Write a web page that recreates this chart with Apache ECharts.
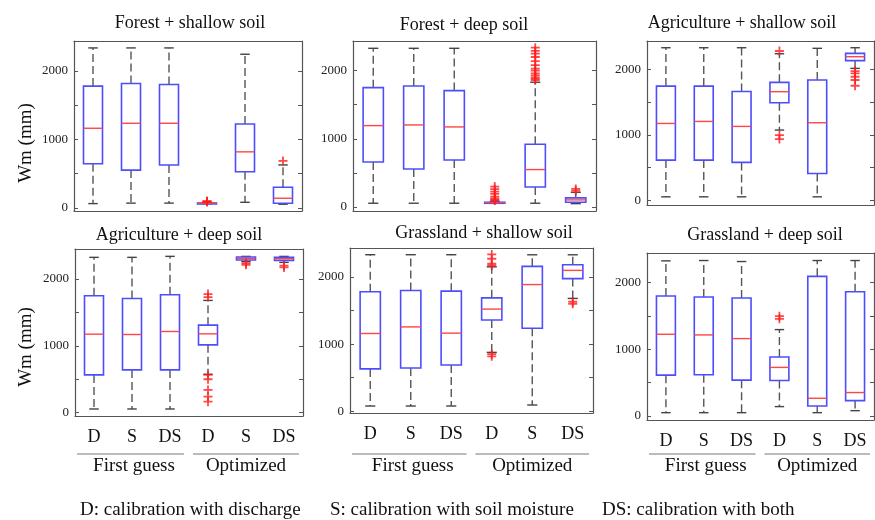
<!DOCTYPE html>
<html>
<head>
<meta charset="utf-8">
<script src="https://cdn.jsdelivr.net/npm/echarts@6/dist/echarts.min.js"></script>
<style>
  html, body { margin: 0; padding: 0; background: #fff; }
  #main { width: 875px; height: 520px; }
</style>
</head>
<body>
<div id="main"></div>
<script>
// categories along each x axis
var categories = ['D', 'S', 'DS', 'D', 'S', 'DS'];
var groupLabels = ['First guess', 'Optimized'];
var panelTitles = ['Forest + shallow soil', 'Forest + deep soil', 'Agriculture + shallow soil',
  'Agriculture + deep soil', 'Grassland + shallow soil', 'Grassland + deep soil'];
var yTickLabels = [0, 1000, 2000];
var yTicks = [0, 500, 1000, 1500, 2000];

// box stats: [low whisker, q1, median, q3, high whisker]
var forestShallowBoxes = [
  [63, 644, 1162, 1777, 2334], [70, 552, 1235, 1816, 2334], [70, 625, 1235, 1801, 2334],
  [62, 64, 68, 72, 78], [82, 528, 818, 1225, 2242], [54, 68, 141, 302, 627]
];
var forestShallowOutliers = [[], [], [], [85, 95, 100], [], [685]];

var forestDeepBoxes = [
  [54, 660, 1193, 1750, 2328], [54, 557, 1203, 1775, 2328], [54, 689, 1174, 1707, 2328],
  [55, 60, 64, 68, 80], [54, 293, 548, 920, 1830], [48, 69, 103, 132, 215]
];
var forestDeepOutliers = [[], [], [],
  [95, 103, 125, 151, 190, 225, 260, 298],
  [1860, 1880, 1900, 1930, 1960, 2000, 2030, 2080, 2140, 2200, 2250, 2290, 2337],
  [239, 264]];

var agriShallowBoxes = [
  [50, 612, 1173, 1745, 2332], [50, 612, 1204, 1745, 2332], [50, 577, 1128, 1663, 2332],
  [1072, 1490, 1659, 1802, 2240], [50, 408, 1184, 1838, 2323], [2016, 2134, 2195, 2246, 2332]
];
var agriShallowOutliers = [[], [], [], [934, 995, 2282], [], [1750, 1838, 1888, 1940, 1975]];

var agriDeepBoxes = [
  [55, 565, 1175, 1750, 2325], [55, 640, 1170, 1710, 2325], [55, 640, 1215, 1765, 2340],
  [575, 1015, 1180, 1310, 1680], [2264, 2285, 2309, 2330, 2339], [2250, 2280, 2305, 2325, 2339]
];
var agriDeepOutliers = [[], [], [], [165, 240, 340, 500, 565, 1730, 1775], [2214, 2240], [2174, 2200]];

var grassShallowBoxes = [
  [79, 631, 1158, 1778, 2330], [79, 645, 1256, 1798, 2330], [79, 690, 1163, 1788, 2330],
  [877, 1359, 1521, 1688, 2150], [94, 1236, 1886, 2157, 2329], [1680, 1975, 2097, 2181, 2329]
];
var grassShallowOutliers = [[], [], [], [818, 850, 2171, 2196, 2270, 2334], [], [1600, 1630]];

var grassDeepBoxes = [
  [50, 613, 1226, 1799, 2327], [50, 618, 1216, 1784, 2332], [50, 538, 1161, 1769, 2317],
  [141, 533, 729, 884, 1296], [50, 151, 266, 2095, 2332], [80, 231, 352, 1864, 2332]
];
var grassDeepOutliers = [[], [], [], [1457, 1497], [], []];

var panelBoxes = [forestShallowBoxes, forestDeepBoxes, agriShallowBoxes, agriDeepBoxes, grassShallowBoxes, grassDeepBoxes];
var panelOutliers = [forestShallowOutliers, forestDeepOutliers, agriShallowOutliers, agriDeepOutliers, grassShallowOutliers, grassDeepOutliers];

// layout of each panel (pixels) and its y range
var panels = [
  { left: 74, top: 41, width: 228, height: 170, min: -45, max: 2435, titleX: 190, titleY: 23 },
  { left: 353, top: 41, width: 243, height: 170, min: -60, max: 2435, titleX: 464, titleY: 25 },
  { left: 647, top: 41, width: 227, height: 164, min: -75, max: 2435, titleX: 742, titleY: 23 },
  { left: 75, top: 249, width: 228, height: 167, min: -50, max: 2450, titleX: 179, titleY: 235 },
  { left: 350, top: 248, width: 243, height: 165, min: -25, max: 2430, titleX: 484, titleY: 233 },
  { left: 647, top: 253, width: 227, height: 167, min: -60, max: 2445, titleX: 765, titleY: 235 }
];

var serif = 'Liberation Serif';
var frameColor = '#555';
var boxColor = '#4d4dff';
var medianColor = '#ff4545';
var outlierColor = '#ff1a1a';
var plusPath = 'path://M-1,-5H1V-1H5V1H1V5H-1V1H-5V-1H-1Z';

function renderBox(params, api) {
  var x = api.value(0);
  var low = api.coord([x, api.value(1)]);
  var q1 = api.coord([x, api.value(2)]);
  var med = api.coord([x, api.value(3)]);
  var q3 = api.coord([x, api.value(4)]);
  var high = api.coord([x, api.value(5)]);
  var half = api.size([1, 0])[0] * 0.25;
  var cap = half * 0.5;
  var cx = low[0];
  var dash = { stroke: '#555', lineWidth: 1.4, lineDash: [8, 4] };
  var solid = { stroke: '#444', lineWidth: 1.4 };
  return {
    type: 'group',
    children: [
      { type: 'line', shape: { x1: cx, y1: q3[1], x2: cx, y2: high[1] }, style: dash },
      { type: 'line', shape: { x1: cx, y1: q1[1], x2: cx, y2: low[1] }, style: dash },
      { type: 'line', shape: { x1: cx - cap, y1: high[1], x2: cx + cap, y2: high[1] }, style: solid },
      { type: 'line', shape: { x1: cx - cap, y1: low[1], x2: cx + cap, y2: low[1] }, style: solid },
      { type: 'rect', shape: { x: cx - half, y: q3[1], width: half * 2, height: Math.max(q1[1] - q3[1], 1) },
        style: { fill: 'none', stroke: boxColor, lineWidth: 1.6 } },
      { type: 'line', shape: { x1: cx - half, y1: med[1], x2: cx + half, y2: med[1] },
        style: { stroke: medianColor, lineWidth: 1.4 } }
    ]
  };
}

var grid = [], xAxis = [], yAxis = [], series = [], graphic = [];

panels.forEach(function (p, i) {
  var bottomRow = i >= 3;
  grid.push({ left: p.left, top: p.top, width: p.width, height: p.height });

  // bottom x axis
  xAxis.push({
    type: 'category', gridIndex: i, data: categories, position: 'bottom',
    axisLine: { onZero: false, lineStyle: { color: frameColor, width: 1.2 } },
    axisTick: { inside: true, alignWithLabel: true, length: 4, lineStyle: { color: frameColor } },
    axisLabel: { show: bottomRow, margin: 12, color: '#111', fontFamily: serif, fontSize: 18 }
  });
  // top x axis (frame + ticks)
  xAxis.push({
    type: 'category', gridIndex: i, data: categories, position: 'top',
    axisLine: { onZero: false, lineStyle: { color: frameColor, width: 1.2 } },
    axisTick: { inside: true, alignWithLabel: true, length: 4, lineStyle: { color: frameColor } },
    axisLabel: { show: false }
  });
  // left y axis
  yAxis.push({
    type: 'value', gridIndex: i, position: 'left', min: p.min, max: p.max,
    splitLine: { show: false },
    axisLine: { show: true, onZero: false, lineStyle: { color: frameColor, width: 1.2 } },
    axisTick: { show: true, inside: true, length: 4, customValues: yTicks, lineStyle: { color: frameColor } },
    axisLabel: {
      customValues: yTickLabels, margin: 6, color: '#222', fontFamily: serif, fontSize: 13,
      formatter: function (v) { return String(v); }
    }
  });
  // right y axis (frame + ticks)
  yAxis.push({
    type: 'value', gridIndex: i, position: 'right', min: p.min, max: p.max,
    splitLine: { show: false },
    axisLine: { show: true, onZero: false, lineStyle: { color: frameColor, width: 1.2 } },
    axisTick: { show: true, inside: true, length: 4, customValues: yTicks, lineStyle: { color: frameColor } },
    axisLabel: { show: false }
  });

  series.push({
    type: 'custom',
    xAxisIndex: i * 2, yAxisIndex: i * 2,
    renderItem: renderBox,
    encode: { x: 0, y: [1, 2, 3, 4, 5] },
    data: panelBoxes[i].map(function (b, k) { return [k].concat(b); }),
    z: 2
  });

  var pts = [];
  panelOutliers[i].forEach(function (vals, k) {
    vals.forEach(function (v) { pts.push([k, v]); });
  });
  series.push({
    type: 'scatter',
    xAxisIndex: i * 2, yAxisIndex: i * 2,
    symbol: plusPath, symbolSize: 9,
    itemStyle: { color: outlierColor },
    data: pts,
    z: 3
  });

  // panel title
  graphic.push({
    type: 'text', x: p.titleX, y: p.titleY,
    style: { text: panelTitles[i], font: '18px "Liberation Serif"', fill: '#111', align: 'center', verticalAlign: 'middle' }
  });

  if (bottomRow) {
    var mid = p.left + p.width / 2;
    var lineY = 454;
    graphic.push({ type: 'line', shape: { x1: p.left + 2, y1: lineY, x2: mid - 5, y2: lineY },
      style: { stroke: '#777', lineWidth: 1 } });
    graphic.push({ type: 'line', shape: { x1: mid + 4, y1: lineY, x2: p.left + p.width - 4, y2: lineY },
      style: { stroke: '#777', lineWidth: 1 } });
    graphic.push({ type: 'text', x: p.left + p.width / 4 + 2, y: 466,
      style: { text: groupLabels[0], font: '19px "Liberation Serif"', fill: '#111', align: 'center', verticalAlign: 'middle' } });
    graphic.push({ type: 'text', x: p.left + p.width * 3 / 4, y: 466,
      style: { text: groupLabels[1], font: '19px "Liberation Serif"', fill: '#111', align: 'center', verticalAlign: 'middle' } });
  }
});

// y axis names
[143, 347].forEach(function (cy) {
  graphic.push({
    type: 'text', x: 26, y: cy, rotation: Math.PI / 2,
    style: { text: 'Wm (mm)', font: '19px "Liberation Serif"', fill: '#111', align: 'center', verticalAlign: 'middle' }
  });
});

// footer
var footerNotes = ['D: calibration with discharge', 'S: calibration with soil moisture', 'DS: calibration with both'];
var footerX = [80, 330, 602];
footerNotes.forEach(function (t, k) {
  graphic.push({
    type: 'text', x: footerX[k], y: 510,
    style: { text: t, font: '19px "Liberation Serif"', fill: '#111', align: 'left', verticalAlign: 'middle' }
  });
});

var chart = echarts.init(document.getElementById('main'));
chart.setOption({
  backgroundColor: '#fff',
  animation: false,
  grid: grid,
  xAxis: xAxis,
  yAxis: yAxis,
  series: series,
  graphic: graphic
});
</script>
</body>
</html>
